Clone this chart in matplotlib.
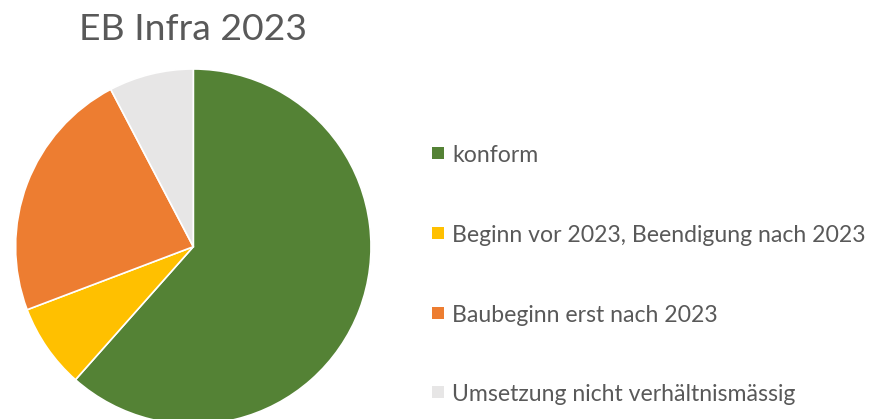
import matplotlib
matplotlib.use("Agg")
import matplotlib.pyplot as plt
from matplotlib.patches import Rectangle

title = "EB Infra 2023"
categories = ["konform", "Beginn vor 2023, Beendigung nach 2023",
              "Baubeginn erst nach 2023", "Umsetzung nicht verhältnismässig"]
values = [8, 1, 3, 1]
colors = ["#548235", "#FFC000", "#ED7D31", "#E7E6E6"]

W, H = 870, 419
fig = plt.figure(figsize=(W / 100, H / 100), dpi=100)
plt.rcParams['font.family'] = ['Lato', 'DejaVu Sans']

cx, cy, r = 193.3, 246.7, 177.7
ax = fig.add_axes([(cx - r) / W, (H - cy - r) / H, 2 * r / W, 2 * r / H])
wedges, _ = ax.pie(values, colors=colors, startangle=90, counterclock=False,
                   wedgeprops=dict(edgecolor="white", linewidth=1.2), radius=1)
for w in wedges:
    w.set_clip_on(False)
ax.set_xlim(-1, 1)
ax.set_ylim(-1, 1)
ax.set_aspect("equal")
ax.axis("off")

fig.text(193 / W, 1 - 30 / H, title, ha="center", va="center",
         fontsize=26.9, color="#595959")

ys = [153, 233, 313, 392]
for cat, col, y in zip(categories, colors, ys):
    fig.add_artist(Rectangle(((432) / W, 1 - (y + 6) / H), 12 / W, 12 / H,
                             transform=fig.transFigure, facecolor=col,
                             edgecolor="none"))
    fig.text(452 / W, 1 - y / H, cat, ha="left", va="center_baseline",
             fontsize=16.6, color="#595959")

fig.savefig("out.png", dpi=100)
